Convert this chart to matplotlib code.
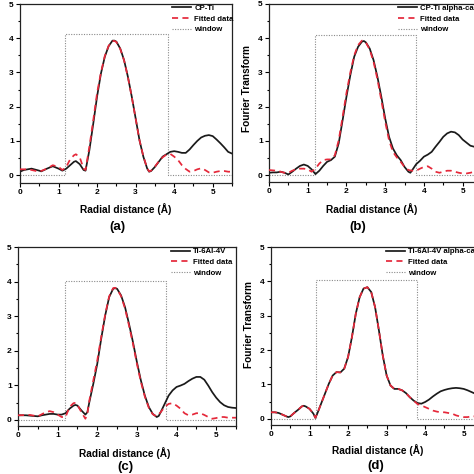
import matplotlib
matplotlib.use("Agg")
import matplotlib.pyplot as plt
from matplotlib.ticker import MultipleLocator

plt.rcParams['font.family'] = ['Liberation Sans', 'DejaVu Sans']
plt.rcParams['font.weight'] = 'bold'

# ---------------- data ----------------
# Panel (a) CP-Ti
r_a = [0, 0.1, 0.3, 0.5, 0.55, 0.7, 0.85, 1.0, 1.1, 1.2, 1.3, 1.4, 1.45, 1.55, 1.65, 1.7, 1.8, 1.9, 2.0, 2.1,
       2.2, 2.3, 2.4, 2.45, 2.5, 2.6, 2.7, 2.8, 2.9, 3.0, 3.1, 3.2, 3.3, 3.35, 3.4, 3.5, 3.6, 3.7, 3.8, 3.9,
       4.0, 4.1, 4.2, 4.3, 4.4, 4.5, 4.6, 4.7, 4.8, 4.9, 5.0, 5.1, 5.2, 5.3, 5.4, 5.5]
ft_a = [0.10, 0.15, 0.19, 0.13, 0.11, 0.19, 0.26, 0.19, 0.13, 0.19, 0.29, 0.39, 0.41, 0.32, 0.15, 0.13, 0.73, 1.5,
        2.3, 2.97, 3.46, 3.77, 3.93, 3.93, 3.9, 3.7, 3.36, 2.87, 2.29, 1.66, 1.02, 0.54, 0.19, 0.1, 0.12, 0.24,
        0.39, 0.54, 0.61, 0.68, 0.7, 0.68, 0.65, 0.65, 0.75, 0.88, 1.0, 1.1, 1.15, 1.17, 1.14, 1.04, 0.93, 0.81,
        0.68, 0.63]
rf_a = [0, 0.2, 0.3, 0.5, 0.7, 0.85, 1.0, 1.1, 1.2, 1.3, 1.4, 1.45, 1.55, 1.65, 1.7, 1.8, 1.9, 2.0, 2.1, 2.2, 2.3,
        2.4, 2.45, 2.5, 2.6, 2.7, 2.8, 2.9, 3.0, 3.1, 3.2, 3.3, 3.35, 3.4, 3.5, 3.6, 3.7, 3.8, 3.9, 4.0, 4.1, 4.2,
        4.3, 4.4, 4.5, 4.6, 4.7, 4.8, 4.9, 5.0, 5.1, 5.2, 5.3, 5.4, 5.5]
fit_a = [0.17, 0.17, 0.15, 0.10, 0.19, 0.29, 0.24, 0.15, 0.24, 0.46, 0.58, 0.61, 0.52, 0.19, 0.15, 0.83, 1.6, 2.4,
         3.0, 3.48, 3.78, 3.92, 3.92, 3.89, 3.69, 3.35, 2.86, 2.28, 1.65, 1.02, 0.55, 0.2, 0.11, 0.13, 0.25, 0.4,
         0.52, 0.6, 0.62, 0.54, 0.44, 0.29, 0.18, 0.1, 0.12, 0.17, 0.2, 0.15, 0.08, 0.07, 0.1, 0.12, 0.12, 0.1, 0.1]

# Panel (b) CP-Ti alpha-case
r_b = [0, 0.1, 0.2, 0.3, 0.4, 0.5, 0.6, 0.7, 0.8, 0.9, 1.0, 1.1, 1.2, 1.3, 1.4, 1.5, 1.6, 1.7, 1.8, 1.9, 2.0,
       2.1, 2.2, 2.3, 2.4, 2.45, 2.5, 2.6, 2.7, 2.8, 2.9, 3.0, 3.1, 3.2, 3.3, 3.4, 3.5, 3.6, 3.65, 3.7, 3.8,
       3.9, 4.0, 4.1, 4.2, 4.3, 4.4, 4.5, 4.6, 4.7, 4.8, 4.9, 5.0, 5.1, 5.2, 5.3, 5.4, 5.5]
ft_b = [0.07, 0.08, 0.08, 0.1, 0.07, 0.02, 0.1, 0.19, 0.27, 0.31, 0.27, 0.17, 0.03, 0.13, 0.27, 0.39, 0.44, 0.54,
        0.93, 1.6, 2.29, 2.92, 3.46, 3.75, 3.9, 3.92, 3.88, 3.7, 3.36, 2.87, 2.29, 1.66, 1.12, 0.78, 0.58, 0.44,
        0.24, 0.1, 0.07, 0.15, 0.32, 0.42, 0.54, 0.6, 0.68, 0.83, 0.97, 1.12, 1.22, 1.27, 1.25, 1.17, 1.04, 0.95,
        0.86, 0.83, 0.79, 0.75]
rf_b = [0, 0.1, 0.2, 0.3, 0.4, 0.5, 0.6, 0.7, 0.8, 0.9, 1.0, 1.1, 1.2, 1.3, 1.4, 1.5, 1.6, 1.7, 1.8, 1.9, 2.0,
        2.1, 2.2, 2.3, 2.4, 2.5, 2.6, 2.7, 2.8, 2.9, 3.0, 3.1, 3.2, 3.3, 3.4, 3.5, 3.6, 3.7, 3.8, 3.9, 4.0, 4.1,
        4.2, 4.3, 4.4, 4.5, 4.6, 4.7, 4.8, 4.9, 5.0, 5.1, 5.2, 5.3, 5.4, 5.5]
fit_b = [0.15, 0.14, 0.13, 0.1, 0.07, 0.07, 0.13, 0.17, 0.19, 0.19, 0.17, 0.1, 0.19, 0.34, 0.44, 0.46, 0.46, 0.58,
         1.02, 1.7, 2.4, 3.0, 3.5, 3.8, 3.93, 3.88, 3.67, 3.31, 2.8, 2.19, 1.56, 1.02, 0.68, 0.52, 0.39, 0.24,
         0.15, 0.13, 0.13, 0.19, 0.24, 0.26, 0.19, 0.1, 0.07, 0.1, 0.13, 0.13, 0.1, 0.07, 0.05, 0.05, 0.07, 0.1,
         0.1, 0.1]

# Panel (c) Ti-6Al-4V
r_c = [0, 0.2, 0.4, 0.5, 0.6, 0.8, 0.9, 1.0, 1.1, 1.2, 1.3, 1.4, 1.45, 1.5, 1.6, 1.7, 1.75, 1.8, 1.9, 2.0, 2.1,
       2.2, 2.3, 2.4, 2.45, 2.5, 2.6, 2.7, 2.8, 2.9, 3.0, 3.1, 3.2, 3.3, 3.4, 3.5, 3.55, 3.6, 3.7, 3.8, 3.9,
       4.0, 4.1, 4.2, 4.3, 4.4, 4.5, 4.6, 4.7, 4.8, 4.9, 5.0, 5.1, 5.2, 5.3, 5.4, 5.5]
ft_c = [0.13, 0.13, 0.11, 0.1, 0.13, 0.17, 0.17, 0.15, 0.15, 0.19, 0.32, 0.41, 0.43, 0.41, 0.27, 0.15, 0.22, 0.51,
        1.04, 1.62, 2.35, 3.02, 3.55, 3.79, 3.81, 3.79, 3.6, 3.26, 2.78, 2.25, 1.67, 1.14, 0.7, 0.37, 0.17, 0.08,
        0.11, 0.22, 0.46, 0.7, 0.85, 0.95, 0.99, 1.04, 1.12, 1.19, 1.24, 1.24, 1.16, 0.99, 0.8, 0.64, 0.51, 0.42,
        0.37, 0.35, 0.34]
rf_c = [0, 0.3, 0.5, 0.7, 0.8, 0.9, 1.0, 1.1, 1.2, 1.3, 1.4, 1.45, 1.5, 1.6, 1.7, 1.75, 1.8, 1.9, 2.0, 2.1, 2.2,
        2.3, 2.4, 2.45, 2.5, 2.6, 2.7, 2.8, 2.9, 3.0, 3.1, 3.2, 3.3, 3.4, 3.5, 3.6, 3.7, 3.8, 3.9, 4.0, 4.1, 4.2,
        4.3, 4.4, 4.5, 4.6, 4.7, 4.8, 4.9, 5.0, 5.1, 5.2, 5.3, 5.5]
fit_c = [0.13, 0.14, 0.1, 0.22, 0.25, 0.22, 0.15, 0.08, 0.08, 0.37, 0.48, 0.49, 0.43, 0.22, 0.03, 0.17, 0.56, 1.14,
         1.72, 2.4, 3.05, 3.57, 3.81, 3.82, 3.78, 3.58, 3.22, 2.73, 2.2, 1.62, 1.1, 0.67, 0.35, 0.16, 0.1, 0.22,
         0.37, 0.46, 0.48, 0.41, 0.32, 0.19, 0.13, 0.15, 0.19, 0.19, 0.14, 0.08, 0.03, 0.05, 0.08, 0.08, 0.06, 0.06]

# Panel (d) Ti-6Al-4V alpha-case
r_d = [0, 0.1, 0.2, 0.3, 0.4, 0.45, 0.5, 0.6, 0.7, 0.8, 0.85, 0.9, 1.0, 1.1, 1.15, 1.2, 1.3, 1.4, 1.5, 1.6, 1.7,
       1.8, 1.9, 2.0, 2.1, 2.2, 2.3, 2.4, 2.5, 2.6, 2.7, 2.8, 2.9, 3.0, 3.1, 3.2, 3.3, 3.4, 3.5, 3.6, 3.7, 3.8,
       3.9, 4.0, 4.1, 4.2, 4.3, 4.4, 4.5, 4.6, 4.7, 4.8, 4.9, 5.0, 5.1, 5.2, 5.3, 5.5]
ft_d = [0.19, 0.19, 0.17, 0.12, 0.07, 0.05, 0.07, 0.17, 0.26, 0.36, 0.38, 0.36, 0.29, 0.15, 0.03, 0.15, 0.44, 0.73,
        1.02, 1.26, 1.36, 1.35, 1.46, 1.8, 2.38, 3.06, 3.54, 3.79, 3.83, 3.69, 3.25, 2.57, 1.84, 1.26, 0.97, 0.87,
        0.87, 0.83, 0.75, 0.63, 0.53, 0.46, 0.44, 0.49, 0.56, 0.65, 0.73, 0.8, 0.84, 0.87, 0.89, 0.9, 0.89, 0.87,
        0.83, 0.78, 0.73, 0.65]
rf_d = [0, 0.1, 0.2, 0.3, 0.4, 0.45, 0.5, 0.6, 0.7, 0.8, 0.85, 0.9, 1.0, 1.1, 1.15, 1.2, 1.3, 1.4, 1.5, 1.6, 1.7,
        1.8, 1.9, 2.0, 2.1, 2.2, 2.3, 2.4, 2.5, 2.6, 2.7, 2.8, 2.9, 3.0, 3.1, 3.2, 3.3, 3.4, 3.5, 3.6, 3.7, 3.8,
        3.9, 4.0, 4.1, 4.2, 4.3, 4.4, 4.5, 4.6, 4.7, 4.8, 4.9, 5.0, 5.1, 5.2, 5.5]
fit_d = [0.19, 0.19, 0.17, 0.12, 0.07, 0.05, 0.07, 0.17, 0.26, 0.36, 0.38, 0.36, 0.29, 0.15, 0.03, 0.15, 0.44, 0.73,
         1.02, 1.26, 1.36, 1.35, 1.46, 1.8, 2.38, 3.06, 3.54, 3.79, 3.83, 3.69, 3.25, 2.57, 1.84, 1.26, 0.97, 0.87,
         0.87, 0.83, 0.75, 0.63, 0.53, 0.43, 0.39, 0.34, 0.29, 0.24, 0.21, 0.19, 0.19, 0.17, 0.15, 0.1, 0.07,
         0.05, 0.05, 0.07, 0.08]

# windows: (start, end, height)
win_a = (1.17, 3.85, 4.12)
win_b = (1.19, 3.80, 4.10)
win_c = (1.18, 3.74, 4.02)
win_d = (1.17, 3.80, 4.03)

labels = ["CP-Ti", "CP-Ti alpha-case", "Ti-6Al-4V", "Ti-6Al-4V alpha-case"]
letters = ["(a)", "(b)", "(c)", "(d)"]

# ---------------- layout ----------------
W = H = 474
fig = plt.figure(figsize=(W / 100, H / 100), dpi=100)


def px_axes(l, r, t, b):
    return fig.add_axes([l / W, 1 - b / H, (r - l) / W, (b - t) / H])


panels = [
    dict(box=(20, 232, 4, 183), ylim=(-0.23, 5), r=r_a, ft=ft_a, rf=rf_a, fit=fit_a, win=win_a,
         leg=(172, 4.5), xl=(126, 209), let=(117, 227), yl=None),
    dict(box=(269, 482, 4, 182), ylim=(-0.2, 5), r=r_b, ft=ft_b, rf=rf_b, fit=fit_b, win=win_b,
         leg=(398, 4.5), xl=(372, 209), let=(358, 227), yl=(247, 88)),
    dict(box=(18, 236, 247, 426), ylim=(-0.18, 5), r=r_c, ft=ft_c, rf=rf_c, fit=fit_c, win=win_c,
         leg=(171, 248), xl=(125, 453), let=(125, 467), yl=None),
    dict(box=(271, 483, 247, 425), ylim=(-0.18, 5), r=r_d, ft=ft_d, rf=rf_d, fit=fit_d, win=win_d,
         leg=(386, 248), xl=(378, 450), let=(376, 466), yl=(249, 325)),
]

RED = '#e5283a'
GRAY = '#8a8a8a'

for i, p in enumerate(panels):
    ax = px_axes(*p['box'])
    w0, w1, wh = p['win']
    ax.plot([0, w0, w0, w1, w1, 5.5], [0, 0, wh, wh, 0, 0], color=GRAY, lw=0.8,
            linestyle=(0, (1, 1.3)), label='window', zorder=1)
    l1, = ax.plot(p['r'], p['ft'], color='#1a1a1a', lw=1.25, label=labels[i], zorder=2)
    l2, = ax.plot(p['rf'], p['fit'], color=RED, lw=1.25, linestyle=(0, (3.5, 2.5)), label='Fitted data', zorder=3)
    ax.set_xlim(0, 5.5)
    ax.set_ylim(*p['ylim'])
    ax.xaxis.set_major_locator(MultipleLocator(1))
    ax.xaxis.set_minor_locator(MultipleLocator(0.5))
    ax.yaxis.set_major_locator(MultipleLocator(1))
    ax.yaxis.set_minor_locator(MultipleLocator(0.5))
    ax.tick_params(which='both', direction='out', labelsize=6, width=0.8, pad=1.5)
    ax.tick_params(which='major', length=3)
    ax.tick_params(which='minor', length=1.8)
    ax.tick_params(top=False, right=False)
    for s in ax.spines.values():
        s.set_linewidth(0.9)
        s.set_color('#222222')
    for lab in ax.get_xticklabels() + ax.get_yticklabels():
        lab.set_fontweight('bold')
    handles = [l1, l2, ax.lines[0]]
    lx, ly = p['leg']
    ax.legend(handles=handles, loc='upper left', bbox_to_anchor=(lx / W, 1 - ly / H),
              bbox_transform=fig.transFigure, frameon=False,
              borderpad=0, borderaxespad=0, handlelength=2.4, handletextpad=0.45,
              labelspacing=0.42, prop=dict(weight='bold', size=5.6))
    xx, xy = p['xl']
    fig.text(xx / W, 1 - xy / H, 'Radial distance (Å)', ha='center', va='center',
             fontsize=7.3, fontweight='bold')
    lx2, ly2 = p['let']
    fig.text(lx2 / W, 1 - ly2 / H, letters[i], ha='center', va='center',
             fontsize=9.5, fontweight='bold')
    if p['yl'] is not None:
        yx, yy = p['yl']
        fig.text(yx / W, 1 - yy / H, 'Fourier Transform', ha='center', va='center',
                 rotation=90, fontsize=7.3, fontweight='bold')

fig.savefig('out.png', dpi=100)
